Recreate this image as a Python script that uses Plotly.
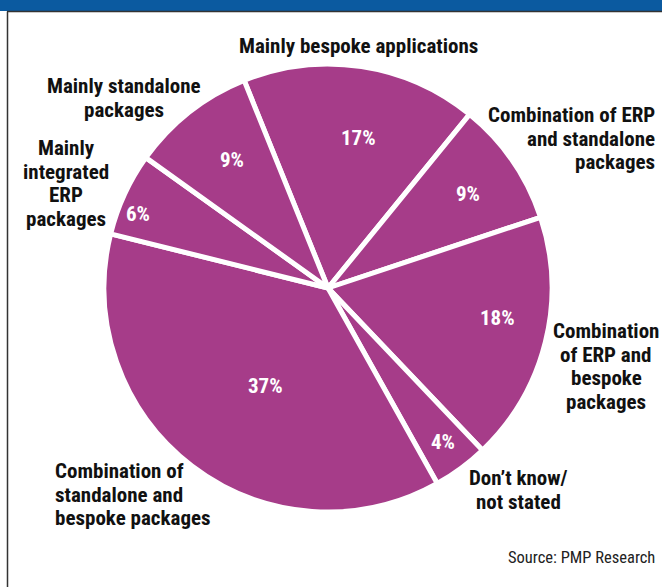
import plotly.graph_objects as go

# Share of respondents by application strategy (clockwise from "Mainly bespoke applications")
categories = [
    "Mainly bespoke applications",
    "Combination of ERP and standalone packages",
    "Combination of ERP and bespoke packages",
    "Don't know/not stated",
    "Combination of standalone and bespoke packages",
    "Mainly integrated ERP packages",
    "Mainly standalone packages",
]
shares = [17, 9, 18, 4, 37, 6, 9]

# Outside label lines for each slice (same order as categories)
label_lines = [
    ["Mainly bespoke applications"],
    ["Combination of ERP", "and standalone", "packages"],
    ["Combination", "of ERP and", "bespoke", "packages"],
    ["Don\u2019t know/", "not stated"],
    ["Combination of", "standalone and", "bespoke packages"],
    ["Mainly", "integrated", "ERP", "packages"],
    ["Mainly standalone", "packages"],
]

source_note = "Source: PMP Research"

W, H = 662, 587
PURPLE = "#a63c89"
BLUE = "#0b5aa0"
FONT = "Roboto Condensed, DejaVu Sans Condensed, sans-serif"
LINE_GAP = 23.7


def px(x):
    return x / W


def py(y):
    return 1 - y / H


cx, cy, r = 328, 288, 224

fig = go.Figure(
    go.Pie(
        labels=categories,
        values=shares,
        sort=False,
        direction="clockwise",
        rotation=-22,
        marker=dict(colors=[PURPLE] * len(shares), line=dict(color="white", width=5)),
        textinfo="none",
        hoverinfo="label+percent",
        showlegend=False,
        domain=dict(x=[px(cx - r), px(cx + r)], y=[py(cy + r), py(cy - r)]),
    )
)

annotations = []

# Percentage labels inside the slices
pct_pos = [(358, 138), (468, 194), (497, 318), (443, 442), (265, 386), (138, 214), (232, 160)]
for v, (x, y) in zip(shares, pct_pos):
    annotations.append(dict(
        x=px(x), y=py(y), xref="paper", yref="paper", text=f"<b>{v}%</b>",
        showarrow=False, xanchor="center", yanchor="middle",
        font=dict(family=FONT, size=21, color="white"),
    ))

# Category labels around the pie: (anchor x, first-line y, xanchor)
label_pos = [
    (358, 46, "center"),
    (657, 115, "right"),
    (606, 331, "center"),
    (518, 478, "center"),
    (53, 471, "left"),
    (66, 148, "center"),
    (124, 86, "center"),
]
for lines, (x, y0, xa) in zip(label_lines, label_pos):
    for i, line in enumerate(lines):
        annotations.append(dict(
            x=px(x), y=py(y0 + i * LINE_GAP), xref="paper", yref="paper",
            text=f"<b>{line}</b>", showarrow=False, xanchor=xa, yanchor="middle",
            font=dict(family=FONT, size=21, color="#111111"),
        ))

annotations.append(dict(
    x=px(657), y=py(557), xref="paper", yref="paper", text=source_note,
    showarrow=False, xanchor="right", yanchor="middle",
    font=dict(family=FONT, size=16.5, color="#222222"),
))

shapes = [
    # header band
    dict(type="rect", xref="paper", yref="paper", x0=0, x1=1, y0=py(11), y1=1,
         fillcolor=BLUE, line=dict(width=0), layer="below"),
    # rule under the header
    dict(type="line", xref="paper", yref="paper", x0=px(7), x1=1, y0=py(11.5), y1=py(11.5),
         line=dict(color="#333333", width=1.5)),
    # left frame line
    dict(type="line", xref="paper", yref="paper", x0=px(7.5), x1=px(7.5), y0=0, y1=py(11.5),
         line=dict(color="#333333", width=1.5)),
]

fig.update_layout(
    width=W, height=H,
    margin=dict(l=0, r=0, t=0, b=0),
    paper_bgcolor="white", plot_bgcolor="white",
    annotations=annotations,
    shapes=shapes,
)

fig.write_html("out.html")
